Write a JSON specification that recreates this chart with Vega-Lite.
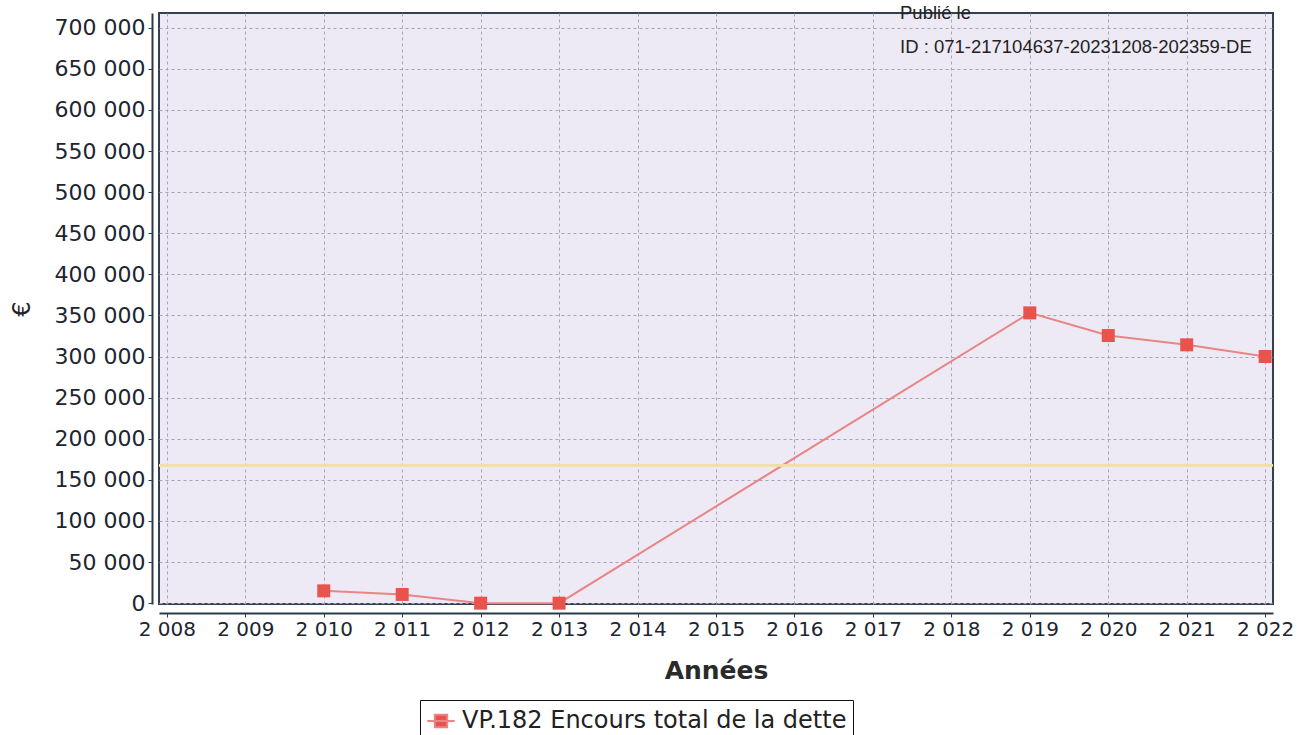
{
  "$schema": "https://vega.github.io/schema/vega-lite/v6.json",
  "width": 1114,
  "height": 591,
  "autosize": {"type": "none"},
  "padding": {"left": 159, "top": 13, "right": 25, "bottom": 131},
  "background": "white",
  "config": {
    "view": {"fill": "#eeeaf5", "stroke": "#33404f", "strokeWidth": 2},
    "font": "DejaVu Sans"
  },
  "title": {
    "text": ["Publié le", "ID : 071-217104637-20231208-202359-DE"],
    "anchor": "start",
    "align": "left",
    "baseline": "top",
    "frame": "group",
    "dx": 741,
    "offset": -43,
    "lineHeight": 34,
    "font": "Liberation Sans",
    "fontSize": 18.5,
    "fontWeight": "normal",
    "color": "#222222"
  },
  "data": {
    "values": [
      {"annee": 2010, "valeur": 15000, "serie": "VP.182 Encours total de la dette"},
      {"annee": 2011, "valeur": 10600, "serie": "VP.182 Encours total de la dette"},
      {"annee": 2012, "valeur": 0, "serie": "VP.182 Encours total de la dette"},
      {"annee": 2013, "valeur": 0, "serie": "VP.182 Encours total de la dette"},
      {"annee": 2019, "valeur": 353200, "serie": "VP.182 Encours total de la dette"},
      {"annee": 2020, "valeur": 325600, "serie": "VP.182 Encours total de la dette"},
      {"annee": 2021, "valeur": 314300, "serie": "VP.182 Encours total de la dette"},
      {"annee": 2022, "valeur": 300100, "serie": "VP.182 Encours total de la dette"}
    ]
  },
  "layer": [
    {
      "mark": {"type": "line", "color": "#e98585", "strokeWidth": 2},
      "encoding": {
        "x": {
          "field": "annee",
          "type": "quantitative",
          "scale": {"domain": [2007.9, 2022.1], "nice": false, "zero": false},
          "axis": {
            "values": [2008, 2009, 2010, 2011, 2012, 2013, 2014, 2015, 2016, 2017, 2018, 2019, 2020, 2021, 2022],
            "labelExpr": "replace(format(datum.value, ','), ',', ' ')",
            "title": "Années",
            "titleFontSize": 25,
            "titleFontWeight": "bold",
            "titleColor": "#2a2a2a",
            "titlePadding": 19,
            "labelFontSize": 20,
            "labelColor": "#1c2530",
            "labelPadding": 2,
            "tickSize": 4,
            "tickColor": "#2b3a4b",
            "domainColor": "#2b3a4b",
            "domainWidth": 2,
            "offset": 9,
            "grid": true,
            "gridColor": "#a8a3b5",
            "gridDash": [3, 3],
            "gridOpacity": 1
          }
        },
        "y": {
          "field": "valeur",
          "type": "quantitative",
          "scale": {"domain": [-1000, 718000], "nice": false, "zero": false},
          "axis": {
            "values": [0, 50000, 100000, 150000, 200000, 250000, 300000, 350000, 400000, 450000, 500000, 550000, 600000, 650000, 700000],
            "labelExpr": "replace(format(datum.value, ','), ',', ' ')",
            "title": "€",
            "titleFontSize": 24,
            "titleFontWeight": "normal",
            "titleColor": "#222222",
            "titlePadding": 20,
            "labelFontSize": 22,
            "labelColor": "#1c2530",
            "labelPadding": 3,
            "tickSize": 4,
            "tickColor": "#2b3a4b",
            "domainColor": "#2b3a4b",
            "domainWidth": 2,
            "offset": 7,
            "grid": true,
            "gridColor": "#a8a3b5",
            "gridDash": [3, 3],
            "gridOpacity": 1
          }
        }
      }
    },
    {
      "mark": {"type": "rule", "color": "#f2dfa6", "strokeWidth": 2, "opacity": 0.8},
      "encoding": {"y": {"datum": 167800, "type": "quantitative"}}
    },
    {
      "mark": {"type": "point", "shape": "square", "filled": true, "size": 169, "opacity": 1},
      "encoding": {
        "x": {"field": "annee", "type": "quantitative"},
        "y": {"field": "valeur", "type": "quantitative"},
        "color": {
          "field": "serie",
          "type": "nominal",
          "scale": {"range": ["#e8544c"]},
          "legend": {
            "title": null,
            "orient": "none",
            "legendX": 261,
            "legendY": 687,
            "fillColor": "white",
            "strokeColor": "#111111",
            "padding": 6,
            "labelFontSize": 24,
            "labelColor": "#222222",
            "labelFont": "DejaVu Sans",
            "labelLimit": 0,
            "labelOffset": 6,
            "symbolType": "M-1,0L1,0M-0.45,-0.45L0.45,-0.45L0.45,0.45L-0.45,0.45Z",
            "symbolSize": 750,
            "symbolStrokeColor": "#e98585",
            "symbolStrokeWidth": 2,
            "symbolOpacity": 1
          }
        }
      }
    }
  ]
}
